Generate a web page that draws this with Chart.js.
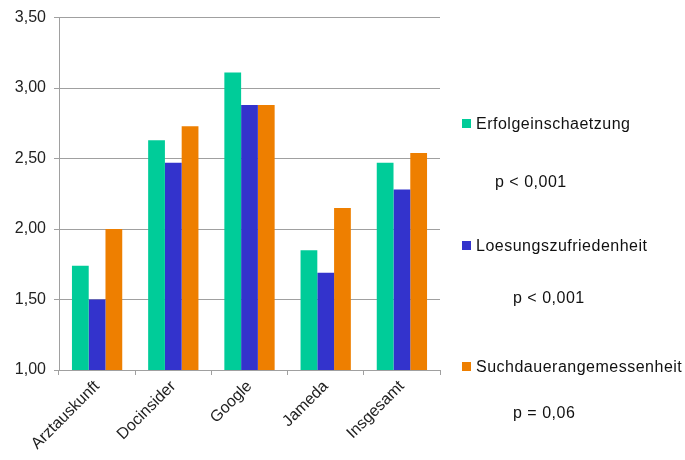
<!DOCTYPE html>
<html>
<head>
<meta charset="utf-8">
<script src="https://cdn.jsdelivr.net/npm/chart.js@4/dist/chart.umd.min.js"></script>
<style>
  body { margin: 0; background: #fff; }
  #wrap { position: relative; width: 685px; height: 460px; }
  .leg { position: absolute; font: 16px "Liberation Sans", Arial, sans-serif; color: #111; white-space: nowrap; letter-spacing: 0.5px; }
  .leg i { display: inline-block; width: 9px; height: 9px; margin-right: 5px; vertical-align: 1px; }
</style>
</head>
<body>
<div id="wrap">
  <canvas id="myChart"></canvas>
</div>
<script>
// Daten
const kategorien = ['Arztauskunft', 'Docinsider', 'Google', 'Jameda', 'Insgesamt'];
const erfolg = [1.74, 2.63, 3.11, 1.85, 2.47];
const loesung = [1.50, 2.47, 2.88, 1.69, 2.28];
const suchdauer = [2.00, 2.73, 2.88, 2.15, 2.54];
const serienNamen = ['Erfolgeinschaetzung', 'Loesungszufriedenheit', 'Suchdauerangemessenheit'];
const pWerte = ['p < 0,001', 'p < 0,001', 'p = 0,06'];
const farben = ['#00CC99', '#3333CC', '#EE7F00'];

// Legende rechts (HTML)
const wrap = document.getElementById('wrap');
const legPos = [
  { x: 462, y: 115, px: 495, py: 173 },
  { x: 462, y: 237, px: 513, py: 289 },
  { x: 462, y: 358, px: 513, py: 404 }
];
serienNamen.forEach((name, i) => {
  const d = document.createElement('div');
  d.className = 'leg';
  d.style.left = legPos[i].x + 'px';
  d.style.top = legPos[i].y + 'px';
  d.innerHTML = '<i style="background:' + farben[i] + '"></i>' + name;
  wrap.appendChild(d);
  const p = document.createElement('div');
  p.className = 'leg';
  p.style.left = legPos[i].px + 'px';
  p.style.top = legPos[i].py + 'px';
  p.textContent = pWerte[i];
  wrap.appendChild(p);
});

const ctx = document.getElementById('myChart');
const schrift = { family: '"Liberation Sans", Arial, sans-serif', size: 16 };

new Chart(ctx, {
  type: 'bar',
  data: {
    labels: kategorien,
    datasets: [erfolg, loesung, suchdauer].map((werte, i) => ({
      label: serienNamen[i],
      data: werte,
      backgroundColor: farben[i],
      borderWidth: 0,
      barPercentage: 1,
      categoryPercentage: 0.66
    }))
  },
  options: {
    responsive: true,
    maintainAspectRatio: false,
    animation: false,
    layout: { padding: { top: 10, right: 245 } },
    plugins: { legend: { display: false }, tooltip: { enabled: false } },
    scales: {
      x: {
        grid: { offset: true, drawOnChartArea: false, color: '#A0A0A0', tickLength: 5 },
        border: { color: '#A0A0A0', width: 1 },
        ticks: { font: schrift, color: '#222', minRotation: 45, maxRotation: 45, padding: 2 },
        afterFit: s => { s.height = 90; }
      },
      y: {
        min: 1,
        max: 3.5,
        grid: { color: '#A0A0A0', tickLength: 5 },
        border: { color: '#A0A0A0', width: 1 },
        ticks: {
          stepSize: 0.5,
          font: schrift,
          color: '#222',
          padding: 8,
          callback: v => v.toFixed(2).replace('.', ',')
        },
        afterFit: s => { s.width = 59; }
      }
    }
  }
});
</script>
</body>
</html>
